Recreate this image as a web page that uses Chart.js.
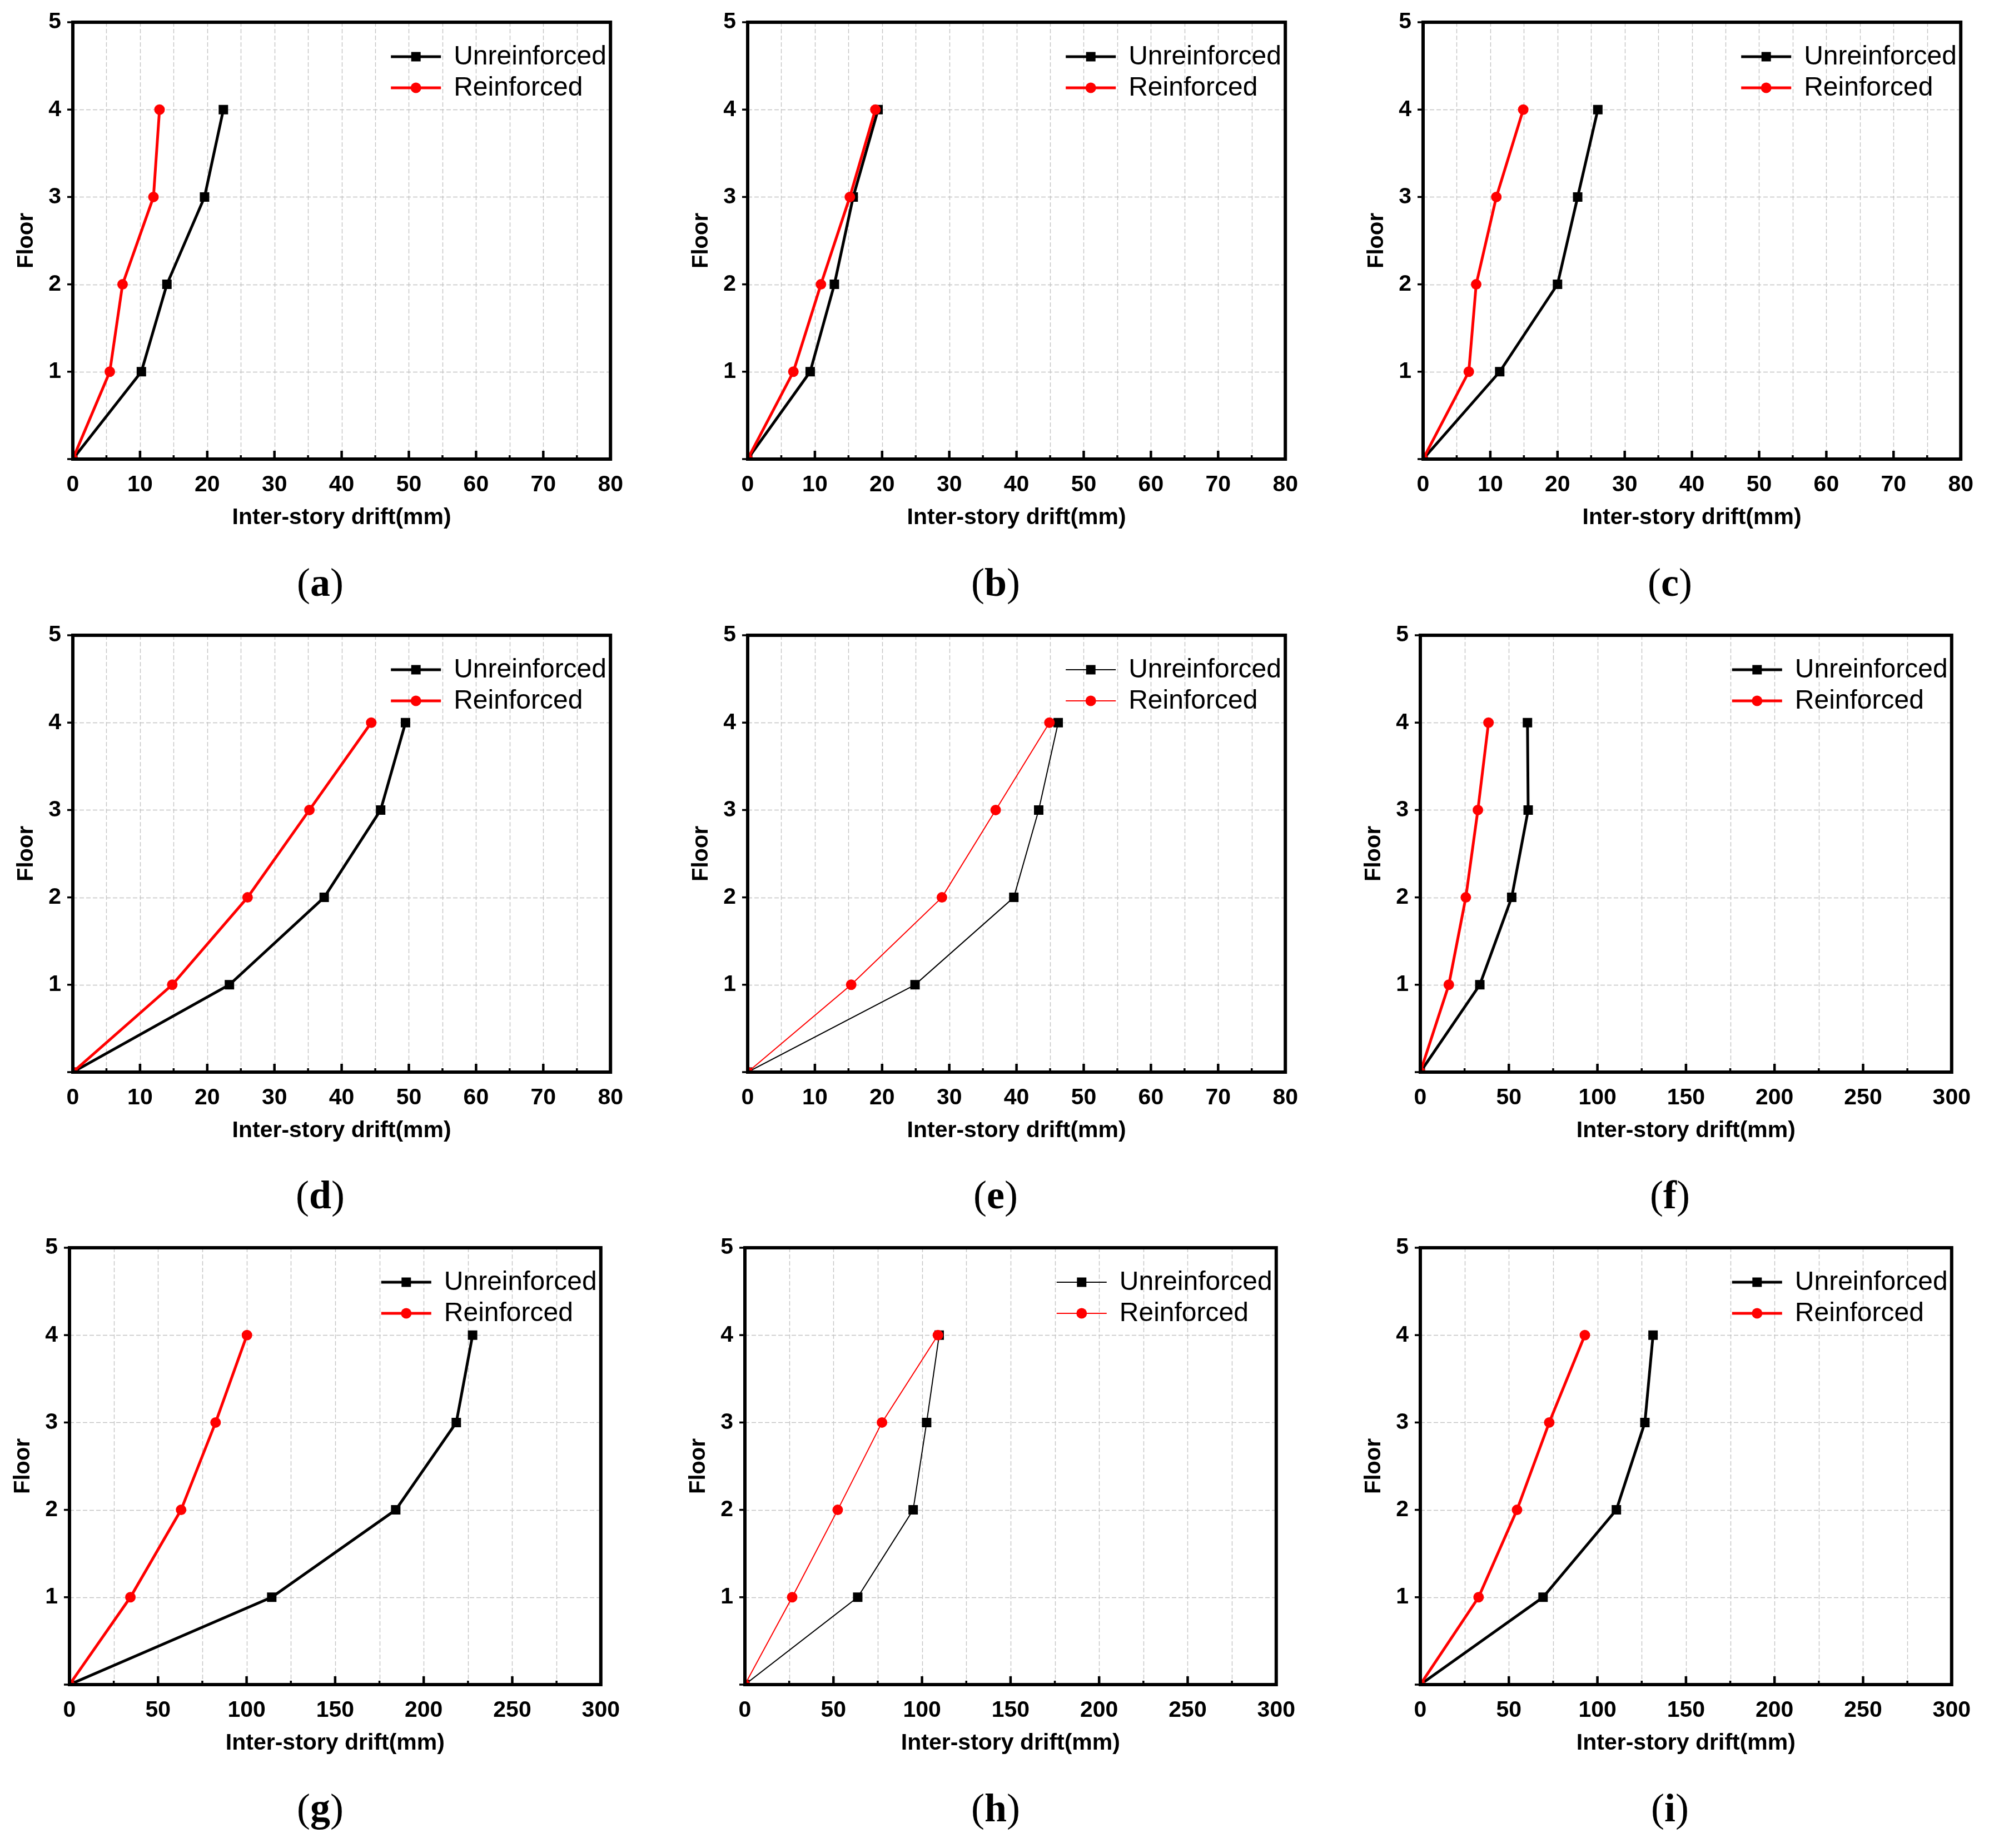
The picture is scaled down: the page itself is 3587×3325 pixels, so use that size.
<!DOCTYPE html>
<html>
<head>
<meta charset="utf-8">
<script src="https://cdn.jsdelivr.net/npm/chart.js@4.4.0/dist/chart.umd.min.js"></script>
<style>
  body { margin: 0; background: #fff; }
  #page { position: relative; width: 3587px; height: 3325px; background: #fff; }
  .panel { position: absolute; }
  .cap { position: absolute; font-family: 'Liberation Serif', 'Times New Roman', serif; font-size: 72px; color: #000; transform: translate(-50%, -50%); white-space: nowrap; }
</style>
</head>
<body>
<div id="page"></div>
<script>
// floor numbers (y values) shared by every panel
const floors = [0, 1, 2, 3, 4];

// inter-story drift (mm), one pair of series per panel
const unreinforcedA = [0, 10.2, 14.0, 19.6, 22.4];
const reinforcedA   = [0, 5.5, 7.4, 12.0, 12.9];
const unreinforcedB = [0, 9.3, 12.9, 15.7, 19.4];
const reinforcedB   = [0, 6.8, 10.9, 15.2, 19.0];
const unreinforcedC = [0, 11.4, 20.0, 23.0, 26.0];
const reinforcedC   = [0, 6.8, 7.9, 10.9, 14.9];
const unreinforcedD = [0, 23.3, 37.4, 45.8, 49.5];
const reinforcedD   = [0, 14.8, 26.0, 35.2, 44.4];
const unreinforcedE = [0, 24.9, 39.6, 43.3, 46.2];
const reinforcedE   = [0, 15.4, 28.9, 36.9, 44.9];
const unreinforcedF = [0, 33.6, 51.6, 60.9, 60.5];
const reinforcedF   = [0, 16.1, 25.7, 32.5, 38.5];
const unreinforcedG = [0, 114.2, 184.2, 218.4, 227.6];
const reinforcedG   = [0, 34.4, 63.0, 82.5, 100.2];
const unreinforcedH = [0, 63.7, 95.0, 102.6, 109.7];
const reinforcedH   = [0, 26.7, 52.4, 77.4, 109.0];
const unreinforcedI = [0, 69.3, 110.7, 126.8, 131.4];
const reinforcedI   = [0, 32.9, 54.6, 72.8, 92.9];

const panelLetters = ['a', 'b', 'c', 'd', 'e', 'f', 'g', 'h', 'i'];
const unreinforcedSeries = [unreinforcedA, unreinforcedB, unreinforcedC, unreinforcedD, unreinforcedE, unreinforcedF, unreinforcedG, unreinforcedH, unreinforcedI];
const reinforcedSeries = [reinforcedA, reinforcedB, reinforcedC, reinforcedD, reinforcedE, reinforcedF, reinforcedG, reinforcedH, reinforcedI];

// x axis ranges / tick steps
const xMaxList = [80, 80, 80, 80, 80, 300, 300, 300, 300];
const xStepList = [5, 5, 5, 5, 5, 25, 25, 25, 25];
const yMax = 5;

const seriesNames = ['Unreinforced', 'Reinforced'];

// layout of the plot areas in page pixels
const plotLeft = [131, 1345, 2560, 131, 1345, 2555, 125, 1340, 2555];
const plotTop = [40, 40, 40, 1143, 1143, 1143, 2245, 2245, 2245];
const plotW = 974;
const plotH = 786;
const capX = [576, 1791, 3004];
const capY = [1048, 2150, 3253];
const thinPanels = ['e', 'h'];

const FONT = "'Liberation Sans', Arial, sans-serif";
const LEFT_SPACE = 131;
const BOTTOM_SPACE = 130;
const TOP_SPACE = 60;
const RIGHT_SPACE = 30;

// draws grid, frame, tick marks and the legend box like Origin does
const frameAndLegend = {
  id: 'frameAndLegend',
  beforeDatasetsDraw(chart) {
    const { ctx, chartArea: a, scales: { x, y } } = chart;
    ctx.save();
    ctx.strokeStyle = '#c4c4c4';
    ctx.lineWidth = 1.4;
    ctx.setLineDash([8, 4]);
    x.ticks.forEach(t => {
      if (t.value <= x.min || t.value >= x.max) return;
      const px = Math.round(x.getPixelForValue(t.value)) + 0.5;
      ctx.beginPath(); ctx.moveTo(px, a.top); ctx.lineTo(px, a.bottom); ctx.stroke();
    });
    y.ticks.forEach(t => {
      if (t.value <= y.min || t.value >= y.max) return;
      const py = Math.round(y.getPixelForValue(t.value)) + 0.5;
      ctx.beginPath(); ctx.moveTo(a.left, py); ctx.lineTo(a.right, py); ctx.stroke();
    });
    ctx.restore();
  },
  afterDatasetsDraw(chart, args, opts) {
    const { ctx, chartArea: a, scales: { x, y } } = chart;
    ctx.save();
    ctx.setLineDash([]);
    ctx.strokeStyle = '#000';
    // x ticks point inward
    x.ticks.forEach(t => {
      const px = x.getPixelForValue(t.value);
      const major = Math.round(t.value / opts.step) % 2 === 0;
      ctx.lineWidth = major ? 4.5 : 3.5;
      ctx.beginPath(); ctx.moveTo(px, a.bottom); ctx.lineTo(px, a.bottom - (major ? 15 : 7)); ctx.stroke();
    });
    // y ticks point outward
    y.ticks.forEach(t => {
      const py = y.getPixelForValue(t.value);
      ctx.lineWidth = 3.5;
      ctx.beginPath(); ctx.moveTo(a.left, py); ctx.lineTo(a.left - 10, py); ctx.stroke();
    });
    ctx.lineWidth = 6;
    ctx.strokeRect(a.left, a.top, a.right - a.left, a.bottom - a.top);

    // legend
    const lineStart = a.right - 395;
    const lineEnd = a.right - 305;
    const textX = a.right - 282;
    const rows = [a.top + 62, a.top + 118];
    const sets = chart.data.datasets.slice().sort((p, q) => p.legendIndex - q.legendIndex);
    sets.forEach((ds, i) => {
      const yy = rows[i];
      ctx.strokeStyle = ds.borderColor;
      ctx.fillStyle = ds.backgroundColor;
      ctx.lineWidth = ds.borderWidth;
      ctx.beginPath(); ctx.moveTo(lineStart, yy); ctx.lineTo(lineEnd, yy); ctx.stroke();
      const cx = (lineStart + lineEnd) / 2;
      ctx.beginPath();
      if (ds.pointStyle === 'rect') {
        const s = ds.pointRadius * Math.SQRT1_2;
        ctx.rect(cx - s, yy - s, 2 * s, 2 * s);
      } else {
        ctx.arc(cx, yy, ds.pointRadius, 0, Math.PI * 2);
      }
      ctx.fill();
      ctx.fillStyle = '#000';
      ctx.font = '48px ' + FONT;
      ctx.textBaseline = 'middle';
      ctx.textAlign = 'left';
      ctx.fillText(ds.label, textX, yy + 1);
    });
    ctx.restore();
  }
};

const page = document.getElementById('page');

panelLetters.forEach((letter, i) => {
  const xMax = xMaxList[i];
  const step = xStepList[i];
  const lw = thinPanels.includes(letter) ? 2 : 5;

  const canvasW = plotW + LEFT_SPACE + RIGHT_SPACE;
  const canvasH = plotH + TOP_SPACE + BOTTOM_SPACE;
  const holder = document.createElement('div');
  holder.className = 'panel';
  holder.style.left = (plotLeft[i] - LEFT_SPACE) + 'px';
  holder.style.top = (plotTop[i] - TOP_SPACE) + 'px';
  holder.style.width = canvasW + 'px';
  holder.style.height = canvasH + 'px';
  const canvas = document.createElement('canvas');
  canvas.width = canvasW;
  canvas.height = canvasH;
  holder.appendChild(canvas);
  page.appendChild(holder);

  const toPoints = arr => arr.map((v, k) => ({ x: v, y: floors[k] }));

  new Chart(canvas.getContext('2d'), {
    type: 'line',
    data: {
      datasets: [
        {
          label: seriesNames[0],
          legendIndex: 0,
          data: toPoints(unreinforcedSeries[i]),
          borderColor: '#000000',
          backgroundColor: '#000000',
          borderWidth: lw,
          pointStyle: 'rect',
          pointRadius: 12,
          pointBorderWidth: 0,
          order: 2
        },
        {
          label: seriesNames[1],
          legendIndex: 1,
          data: toPoints(reinforcedSeries[i]),
          borderColor: '#ff0000',
          backgroundColor: '#ff0000',
          borderWidth: lw,
          pointStyle: 'circle',
          pointRadius: 9.5,
          pointBorderWidth: 0,
          order: 1
        }
      ]
    },
    options: {
      responsive: false,
      animation: false,
      devicePixelRatio: 1,
      layout: { padding: { top: TOP_SPACE, right: RIGHT_SPACE, left: 0, bottom: 0 } },
      plugins: {
        legend: { display: false },
        tooltip: { enabled: false },
        frameAndLegend: { step: step }
      },
      scales: {
        x: {
          type: 'linear',
          min: 0,
          max: xMax,
          afterFit: s => { s.height = BOTTOM_SPACE; },
          grid: { display: false },
          border: { display: false },
          ticks: {
            stepSize: step,
            autoSkip: false,
            maxRotation: 0,
            padding: 14,
            color: '#000',
            font: { family: FONT, size: 41, weight: 'bold' },
            callback: v => (Math.round(v / step) % 2 === 0 ? v : '')
          },
          title: {
            display: true,
            text: 'Inter-story drift(mm)',
            color: '#000',
            font: { family: FONT, size: 41, weight: 'bold' },
            padding: { top: 0, bottom: 0 }
          }
        },
        y: {
          type: 'linear',
          min: 0,
          max: yMax,
          afterFit: s => { s.width = LEFT_SPACE; },
          grid: { display: false },
          border: { display: false },
          ticks: {
            stepSize: 1,
            padding: 13,
            color: '#000',
            font: { family: FONT, size: 41, weight: 'bold' },
            callback: v => (v === 0 ? '' : v)
          },
          title: {
            display: true,
            text: 'Floor',
            color: '#000',
            font: { family: FONT, size: 40, weight: 'bold' },
            padding: { top: 24, bottom: 0 }
          }
        }
      }
    },
    plugins: [frameAndLegend]
  });

  const cap = document.createElement('div');
  cap.className = 'cap';
  cap.style.left = capX[i % 3] + 'px';
  cap.style.top = capY[Math.floor(i / 3)] + 'px';
  cap.innerHTML = '(<b>' + letter + '</b>)';
  page.appendChild(cap);
});
</script>
</body>
</html>
